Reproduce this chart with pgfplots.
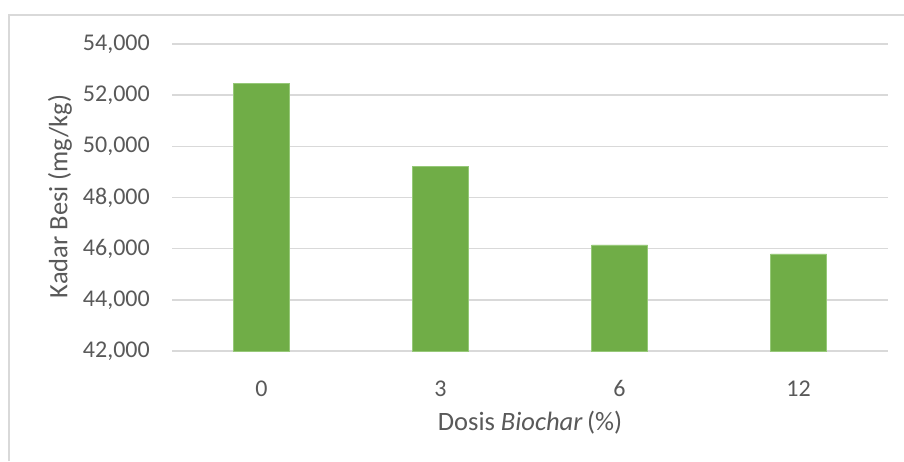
\documentclass[border=0pt]{standalone}
\usepackage{fontspec}
\setmainfont{Carlito}
\usepackage{pgfplots}
\pgfplotsset{compat=1.18}

\definecolor{barGreen}{RGB}{112,173,71}
\definecolor{barEdge}{RGB}{150,200,120}
\definecolor{gridGray}{RGB}{217,217,217}
\definecolor{txtGray}{RGB}{89,89,89}

\begin{document}
\begin{tikzpicture}
    \useasboundingbox (0,0) rectangle (904pt,461pt);
    \fill[white] (0,0) rectangle (904pt,461pt);
    % chart frame (only left and top edges are inside the picture)
    \draw[gridGray, line width=1.5pt] (9pt,0) -- (9pt,446pt) -- (904pt,446pt);

    \begin{axis}[
            at={(172pt,110pt)}, anchor=south west,
            scale only axis,
            width=716pt, height=307pt,
            ybar, bar width=56pt,
            xmin=-0.5, xmax=3.5,
            ymin=42000, ymax=54000,
            ytick={42000,44000,...,54000},
            scaled y ticks=false,
            xtick={0,1,2,3},
            xticklabels={0,3,6,12},
            axis line style={draw=none},
            tick style={draw=none},
            ymajorgrids,
            major grid style={gridGray, line width=1.5pt},
            yticklabel={\pgfmathprintnumber[fixed, precision=0, 1000 sep={,}, assume math mode=true]{\tick}},
            ticklabel style={font=\fontsize{24}{28}\selectfont, text=txtGray},
            yticklabel style={anchor=east, inner sep=0pt, xshift=-22pt},
            xticklabel style={anchor=north, inner sep=0pt, yshift=-25pt},
        ]
        \addplot[fill=barGreen, draw=barEdge, line width=0.6pt] coordinates {
            (0,52470) (1,49210) (2,46145) (3,45795)
        };
    \end{axis}

    \node[txtGray, font=\fontsize{26.5}{30}\selectfont] at (530pt,38pt) {Dosis \textit{Biochar}\,(\%)};
    \node[txtGray, font=\fontsize{26.5}{30}\selectfont, rotate=90] at (60pt,264.5pt) {Kadar Besi (mg/kg)};
\end{tikzpicture}
\end{document}
